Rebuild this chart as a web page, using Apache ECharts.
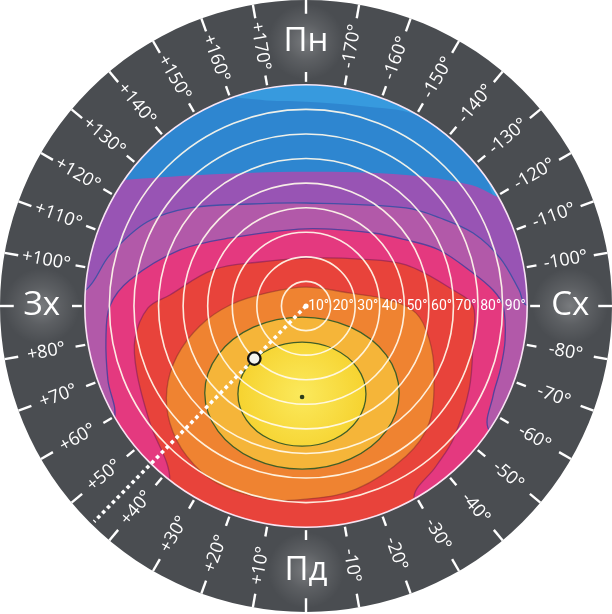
<!DOCTYPE html>
<html><head><meta charset="utf-8">
<script src="https://cdn.jsdelivr.net/npm/echarts@6/dist/echarts.min.js"></script>
<style>html,body{margin:0;padding:0;background:#fff}#c{width:612px;height:614px}</style>
</head><body><div id="c"></div>
<script>
// Sky-plane coordinates (x: east +, y: north +), in degrees of zenith distance; horizon = 90.
const skyRadius = 90;
const ringOuter = 124.5;
const altitudeCircles = [10, 20, 30, 40, 50, 60, 70, 80, 90];
const altitudeLabels = ['10°', '20°', '30°', '40°', '50°', '60°', '70°', '80°', '90°'];
const azimuthTicks = [-170, -160, -150, -140, -130, -120, -110, -100, -90, -80, -70, -60, -50, -40, -30, -20, -10,
  0, 10, 20, 30, 40, 50, 60, 70, 80, 90, 100, 110, 120, 130, 140, 150, 160, 170, 180];
const azimuthLabelValues = [10, 20, 30, 40, 50, 60, 70, 80, 100, 110, 120, 130, 140, 150, 160, 170,
  -10, -20, -30, -40, -50, -60, -70, -80, -100, -110, -120, -130, -140, -150, -160, -170];
const azimuthLabels = ['+10°', '+20°', '+30°', '+40°', '+50°', '+60°', '+70°', '+80°', '+100°', '+110°', '+120°', '+130°', '+140°', '+150°', '+160°', '+170°',
  '-10°', '-20°', '-30°', '-40°', '-50°', '-60°', '-70°', '-80°', '-100°', '-110°', '-120°', '-130°', '-140°', '-150°', '-160°', '-170°'];
const cardinalNames = ['Пд', 'Зх', 'Пн', 'Сх'];
const cardinalAzimuths = [0, 90, 180, -90];

const bandNames = ['lightBlue', 'purple', 'magenta', 'pink', 'red', 'orange', 'lightOrange', 'yellow'];
const bandColors = ['#379ade', '#9854b4', '#b259a9', '#e4397f', '#e8433b', '#ef8331', '#f5b539', '#f8db3a'];
const bandOutlines = ['rgba(0,0,0,0)', 'rgba(0,0,0,0)', '#4450a6', '#56419c', 'rgba(120,30,90,0.55)', 'rgba(120,40,40,0.45)', '#3f5e28', '#3f5e28'];
const bandPoints = [
  [[-39.1,108.3],[-35.0,88.0],[-18.7,83.9],[0,83.1],[22.0,81.4],[44.8,77.8],[62.7,65.6],[72.9,53.3],[77.8,44.4],[103.4,59.5],[50.5,108.3],[0,120.5]],
  [[-108.3,49.3],[-74.5,51.3],[-43.2,53.3],[0,54.6],[40.7,53.3],[66.8,49.3],[77.8,44.4],[107.5,30.9],[115.6,0],[95.3,-66.8],[0,-115.6],[-94.1,-66.8],[-114.4,0]],
  [[-108.3,-1.6],[-89.6,6.5],[-79.8,20.8],[-64.7,34.2],[-47.2,39.9],[-22.8,41.5],[0,41.9],[40.7,39.9],[54.6,35.8],[68.0,29.7],[79.0,19.5],[86.7,6.5],[89.6,0.4],[111.6,-5.7],[95.3,-66.8],[0,-115.6],[-94.1,-66.8]],
  [[-78.2,-46.4],[-80.6,-30.1],[-81.4,-13.8],[-79.8,0],[-71.7,10.6],[-51.3,22.8],[-30.9,27.7],[0,31.4],[27.3,29.7],[40.7,26.9],[54.2,22.8],[68.0,13.4],[76.1,6.5],[80.2,0],[81.0,-13.8],[79.0,-26.1],[76.1,-36.6],[74.5,-50.5],[95.3,-66.8],[0,-115.6],[-94.1,-66.8]],
  [[-55.4,-70.9],[-63.5,-47.6],[-68.8,-27.3],[-69.6,-13.4],[-64.3,-0.8],[-55.4,4.5],[-37.9,14.7],[-18.7,17.9],[1.6,19.5],[22.0,19.1],[40.7,16.7],[59.9,6.5],[68.0,0],[68.0,-13.4],[66.4,-33.8],[59.9,-54.2],[52.9,-65.2],[44.0,-78.6],[58.6,-103.4],[0,-119.7],[-63.5,-103.4]],
  [[0,7.7],[17.5,5.3],[34.2,2.4],[44.8,-2.9],[50.1,-13.4],[52.1,-27.3],[50.1,-47.6],[40.7,-61.1],[20.4,-74.5],[0,-78.6],[-15.9,-78.6],[-36.2,-72.1],[-48.5,-61.1],[-55.4,-47.6],[-56.6,-33.8],[-52.5,-20.4],[-43.2,-8.1],[-30.9,0.4],[-15.9,5.3]],
  [[-1.6,-4.5],[18.1,-8.6],[32.6,-19.9],[37.9,-35.4],[32.6,-50.9],[18.1,-62.2],[-1.6,-66.4],[-21.4,-62.2],[-35.8,-50.9],[-41.2,-35.4],[-35.8,-19.9],[-21.4,-8.6]],
  [[-1.6,-14.7],[11.4,-17.5],[20.9,-25.2],[24.4,-35.8],[20.9,-46.4],[11.4,-54.2],[-1.6,-57.0],[-14.7,-54.2],[-24.2,-46.4],[-27.7,-35.8],[-24.2,-25.2],[-14.7,-17.5]]
];
const sunPoint = [-1.6, -37.0];
const markerAzimuth = 44.5, markerZenith = 30;
const pathAzimuth = 44.5, pathLength = 123;

const FONT = "'Open Sans', 'DejaVu Sans', sans-serif";
function proj(az, zd) { const a = az * Math.PI / 180; return [-zd * Math.sin(a), -zd * Math.cos(a)]; }

const chart = echarts.init(document.getElementById('c'), null, { renderer: 'canvas' });
const one = [[0, 0]];

function renderSky(p, api) {
  const c = api.coord([0, 0]);
  return { type: 'circle', shape: { cx: c[0], cy: c[1], r: api.size([skyRadius, 0])[0] }, style: { fill: '#2e86d0' } };
}
function renderBand(p, api) {
  const i = p.dataIndex;
  const pts = bandPoints[i].map(q => api.coord(q));
  let fill = bandColors[i];
  if (bandNames[i] === 'yellow') {
    fill = { type: 'radial', x: 0.5, y: 0.5, r: 0.6, colorStops: [{ offset: 0, color: '#fbe95c' }, { offset: 1, color: '#f6d330' }] };
  }
  return { type: 'polygon', shape: { points: pts, smooth: 0.35 }, style: { fill: fill, stroke: bandOutlines[i], lineWidth: 1.3 } };
}
function renderRing(p, api) {
  const c = api.coord([0, 0]);
  return { type: 'ring', shape: { cx: c[0], cy: c[1], r: api.size([ringOuter, 0])[0], r0: api.size([skyRadius, 0])[0] }, style: { fill: '#4a4d51' } };
}
function renderCircles(p, api) {
  const c = api.coord([0, 0]);
  const children = [];
  altitudeCircles.forEach((v, i) => {
    children.push({ type: 'circle', shape: { cx: c[0], cy: c[1], r: api.size([v, 0])[0] },
      style: { fill: 'none', stroke: i === altitudeCircles.length - 1 ? 'rgba(255,235,250,0.95)' : 'rgba(255,250,235,0.92)', lineWidth: 1.6 } });
    const pt = api.coord([v - 0.6, 0]);
    children.push({ type: 'text', x: pt[0], y: pt[1],
      style: { text: altitudeLabels[i], fill: '#ffffff', font: "14px 'Liberation Sans Narrow', Roboto, sans-serif", align: 'right', verticalAlign: 'middle' } });
  });
  return { type: 'group', children };
}
function renderAzimuth(p, api) {
  const children = [];
  azimuthTicks.forEach(az => {
    [[91.2, 95.2], [118.9, 124.5]].forEach(seg => {
      const a = api.coord(proj(az, seg[0])), b = api.coord(proj(az, seg[1]));
      children.push({ type: 'line', shape: { x1: a[0], y1: a[1], x2: b[0], y2: b[1] }, style: { stroke: '#ffffff', lineWidth: 2.4 } });
    });
  });
  azimuthLabelValues.forEach((az, i) => {
    const pt = api.coord(proj(az, 107.3));
    const rotDeg = az > 0 ? 90 - az : -90 - az;
    children.push({ type: 'text', x: pt[0], y: pt[1], rotation: rotDeg * Math.PI / 180,
      style: { text: azimuthLabels[i], fill: '#ffffff', font: '18px ' + FONT, align: 'center', verticalAlign: 'middle' } });
  });
  cardinalAzimuths.forEach((az, i) => {
    const pt = api.coord(proj(az, 107.5));
    children.push({ type: 'circle', shape: { cx: pt[0], cy: pt[1], r: 38 },
      style: { fill: { type: 'radial', x: 0.5, y: 0.5, r: 0.5, colorStops: [{ offset: 0, color: 'rgba(255,255,255,0.26)' }, { offset: 0.5, color: 'rgba(255,255,255,0.1)' }, { offset: 1, color: 'rgba(255,255,255,0)' }] } } });
    children.push({ type: 'text', x: pt[0], y: pt[1],
      style: { text: cardinalNames[i], fill: '#ffffff', font: '33px ' + FONT, align: 'center', verticalAlign: 'middle',
        shadowBlur: 10, shadowColor: 'rgba(255,255,255,0.6)' } });
  });
  return { type: 'group', children };
}
function renderOverlay(p, api) {
  const c0 = api.coord([0, 0]);
  const end = api.coord(proj(pathAzimuth, pathLength));
  const m = api.coord(proj(markerAzimuth, markerZenith));
  const s = api.coord(sunPoint);
  return { type: 'group', children: [
    { type: 'line', shape: { x1: c0[0], y1: c0[1], x2: end[0], y2: end[1] }, style: { stroke: '#ffffff', lineWidth: 3.6, lineDash: [3.6, 3.4] } },
    { type: 'circle', shape: { cx: c0[0], cy: c0[1], r: 2.6 }, style: { fill: '#ffffff' } },
    { type: 'circle', shape: { cx: s[0], cy: s[1], r: 2.3 }, style: { fill: '#2d3d1c' } },
    { type: 'circle', shape: { cx: m[0], cy: m[1], r: 6.2 }, style: { fill: '#f5f5f0', stroke: '#111111', lineWidth: 2.3 } }
  ] };
}

chart.setOption({
  animation: false,
  backgroundColor: '#ffffff',
  grid: { left: 0, top: 0, width: 612, height: 612 },
  xAxis: { type: 'value', min: -ringOuter, max: ringOuter, show: false },
  yAxis: { type: 'value', min: -ringOuter, max: ringOuter, show: false },
  series: [
    { type: 'custom', name: 'sky', z: 1, data: one, renderItem: renderSky, silent: true },
    { type: 'custom', name: 'bands', z: 2, data: bandNames.map(() => [0, 0]), renderItem: renderBand, silent: true },
    { type: 'custom', name: 'ring', z: 3, data: one, renderItem: renderRing, silent: true },
    { type: 'custom', name: 'altitude', z: 4, data: one, renderItem: renderCircles, silent: true },
    { type: 'custom', name: 'azimuth', z: 5, data: one, renderItem: renderAzimuth, silent: true },
    { type: 'custom', name: 'overlay', z: 6, data: one, renderItem: renderOverlay, silent: true }
  ]
});
</script></body></html>
